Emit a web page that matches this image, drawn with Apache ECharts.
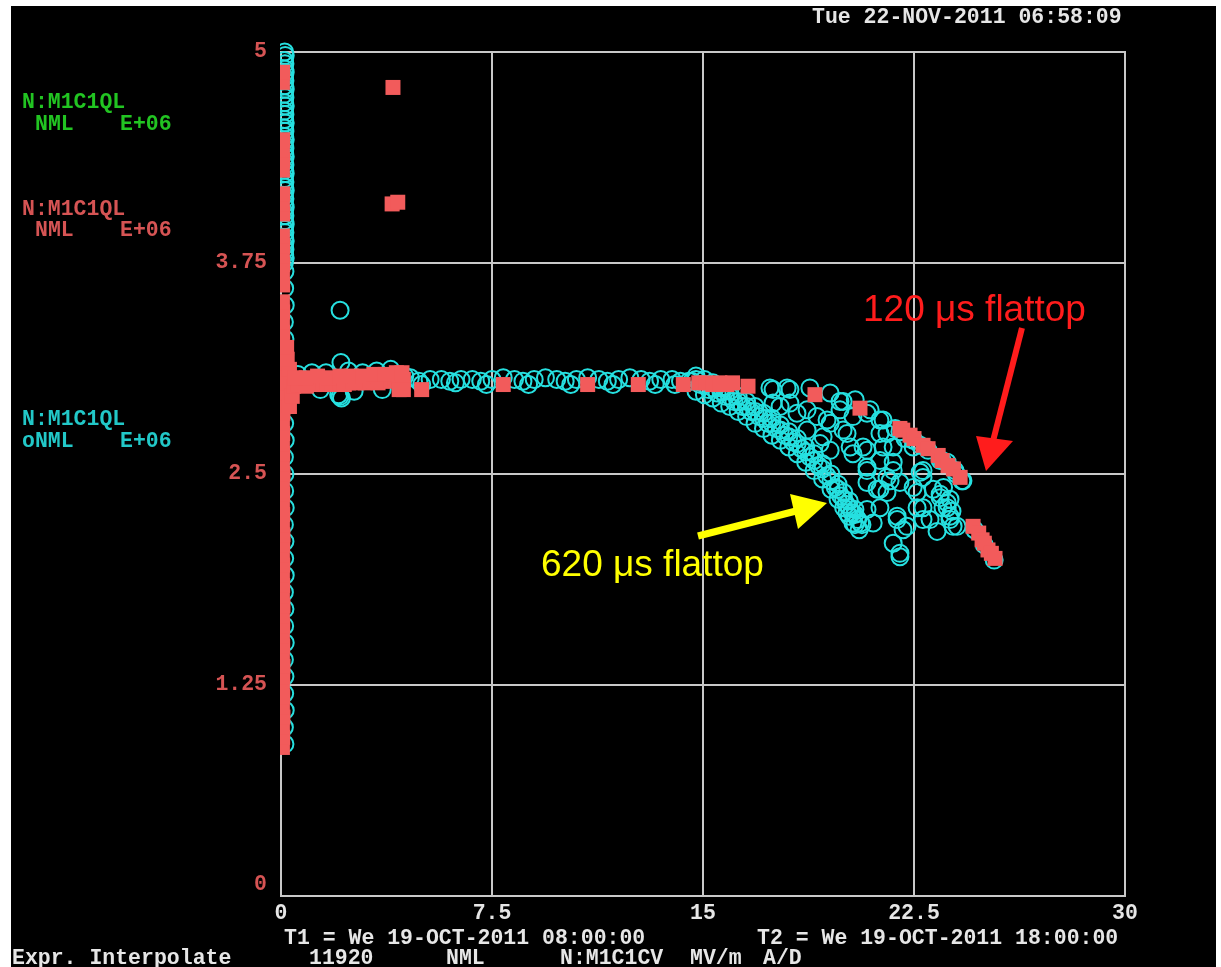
<!DOCTYPE html>
<html>
<head>
<meta charset="utf-8">
<script src="https://cdn.jsdelivr.net/npm/echarts@6/dist/echarts.min.js"></script>
<style>
html,body{margin:0;padding:0;background:#ffffff;}
#bg{position:absolute;left:11px;top:6px;width:1205px;height:961px;background:#000;}
#chart{position:absolute;left:0;top:0;width:1221px;height:967px;}
</style>
</head>
<body>
<div id="bg"></div>
<div id="chart"></div>
<script>
// ---- tick labels ----
const xTickValues = [0, 7.5, 15, 22.5, 30];
const yTickValues = [0, 1.25, 2.5, 3.75, 5];

// ---- red series (N:M1C1QL, filled squares) ----
const redColumnY = [0.88,0.94,1.00,1.06,1.12,1.18,1.24,1.30,1.36,1.42,1.48,1.54,1.60,1.66,1.72,1.78,1.84,1.90,1.96,2.02,2.08,2.14,2.20,2.26,2.32,2.38,2.44,2.50,2.56,2.62,2.68,2.74,2.80,2.86,2.92,2.98,3.04,3.10,3.16,3.22,3.28,3.34,3.40,3.46,3.52,3.62,3.69,3.74,3.79,3.85,3.91,4.04,4.10,4.16,4.30,4.36,4.42,4.48,4.82,4.88];
const redColumnX = [0.05,0.06,0.05,0.07,0.05,0.06,0.05,0.06,0.07,0.05,0.06,0.05,0.06,0.05,0.07,0.05,0.06,0.05,0.06,0.05,0.06,0.07,0.05,0.06,0.05,0.06,0.05,0.07,0.05,0.06,0.05,0.06,0.05,0.07,0.06,0.05,0.06,0.05,0.07,0.06,0.05,0.06,0.05,0.06,0.05,0.06,0.05,0.06,0.05,0.06,0.05,0.06,0.05,0.06,0.05,0.06,0.05,0.06,0.05,0.06];
const redJunction = [[0.3,2.90],[0.4,2.96],[0.3,3.12],[0.22,3.18],[0.2,3.25]];
const redBand = [[0.45,3.02],[0.6,3.03],[0.75,3.03],[0.9,3.02],[1.05,3.04],[1.2,3.03],[1.35,3.04],[1.5,3.03],[1.65,3.04],[1.8,3.03],[1.95,3.04],[2.1,3.04],[2.25,3.03],[2.4,3.04],[2.55,3.05],[2.7,3.04],[2.85,3.05],[3.0,3.04],[3.15,3.05],[3.3,3.05],[3.45,3.04],[3.6,3.05],[3.75,3.06],[3.9,3.05],[4.05,3.06],[4.2,3.05],[4.35,3.06],
  [0.5,3.07],[0.9,3.07],[1.3,3.08],[1.7,3.07],[2.1,3.08],[2.5,3.08],[2.9,3.08],[3.3,3.09],[3.7,3.09],[4.1,3.10],[4.3,3.10],[4.2,3.00],[4.35,3.00]];
const redFlat = [[5.0,3.00],[7.9,3.03],[10.9,3.03],[12.7,3.03],[14.3,3.03],[14.85,3.04],[15.1,3.04],[15.35,3.03],[15.6,3.04],[15.85,3.03],[16.05,3.04],[16.6,3.02]];
const redCurve = [[18.98,2.97],[20.58,2.89],[22.0,2.77],[22.1,2.76],[22.36,2.73],[22.5,2.71],[22.82,2.67],[23.0,2.65],[23.36,2.61],[23.5,2.58],[23.71,2.55],[23.9,2.53],[24.14,2.48],[24.6,2.19],[24.8,2.15],[24.92,2.11],[25.0,2.09],[25.13,2.05],[25.25,2.03],[25.38,2.00]];
const redOutliers = [[3.98,4.79],[3.95,4.10],[4.15,4.11]];

// ---- cyan series (N:M1C1QL, open circles) ----
const cyanColumnY = [0.90,1.00,1.10,1.20,1.30,1.40,1.50,1.60,1.70,1.80,1.90,2.00,2.10,2.20,2.30,2.40,2.50,2.60,2.70,2.80,2.90,3.00,3.10,3.20,3.30,3.40,3.50,3.60,3.70,3.75,3.78,3.80,3.83,3.85,3.88,3.90,3.93,3.95,3.98,4.00,4.03,4.05,4.08,4.10,4.13,4.15,4.18,4.20,4.23,4.25,4.28,4.30,4.33,4.35,4.38,4.40,4.43,4.45,4.48,4.50,4.53,4.55,4.58,4.60,4.63,4.65,4.68,4.70,4.73,4.75,4.78,4.80,4.83,4.85,4.88,4.90,4.93,4.95,4.98,5.00];
const cyanColumnX = [0.14,0.12,0.15,0.13,0.14,0.12,0.15,0.13,0.14,0.12,0.15,0.13,0.14,0.12,0.15,0.13,0.14,0.12,0.15,0.13,0.14,0.12,0.15,0.13,0.14,0.12,0.15,0.13,0.14,0.12,0.15,0.13,0.14,0.12,0.15,0.13,0.14,0.12,0.15,0.13,0.14,0.12,0.15,0.13,0.14,0.12,0.15,0.13,0.14,0.12,0.15,0.13,0.14,0.12,0.15,0.13,0.14,0.12,0.15,0.13,0.14,0.12,0.15,0.13,0.14,0.12,0.15,0.13,0.14,0.12,0.15,0.13,0.14,0.12,0.15,0.13,0.14,0.12,0.15,0.13];
const cyanOutliers = [[2.1,3.47],[2.13,3.16],[2.1,2.96],[2.05,2.97],[2.15,2.95]];
const cyanFlat = [[0.6,3.09],[1.1,3.10],[1.6,3.10],[2.4,3.11],[2.9,3.10],[3.4,3.11],[3.9,3.12],[1.4,3.00],[2.6,2.99],[3.6,3.00],[4.4,3.08],
  [4.6,3.07],[4.9,3.05],[5.3,3.06],[5.7,3.06],[6.0,3.05],[6.4,3.06],[6.8,3.06],[7.1,3.05],[7.5,3.06],[7.9,3.07],[8.3,3.06],[8.6,3.05],[9.0,3.06],[9.4,3.07],[9.8,3.06],[10.1,3.05],[10.5,3.06],[10.9,3.07],[11.3,3.06],[11.6,3.05],[12.0,3.06],[12.4,3.07],[12.8,3.06],[13.1,3.05],[13.5,3.06],[13.9,3.06],[14.2,3.05],[14.5,3.05],
  [5.0,3.03],[6.2,3.04],[7.3,3.03],[8.8,3.03],[10.3,3.03],[11.8,3.03],[13.3,3.03],[14.0,3.03]];
const cyanBranch = [
  [14.75,3.08],[15.05,3.06],[15.35,3.04],[15.65,3.01],[15.95,2.99],[16.25,2.96],[16.55,2.93],[16.85,2.90],[17.15,2.86],[17.45,2.83],[17.75,2.79],[18.05,2.75],[18.35,2.71],[18.65,2.66],[18.95,2.62],[19.25,2.56],[19.55,2.50],[19.8,2.44],[20.0,2.39],[20.2,2.34],[20.4,2.29],
  [14.75,3.06],[15.05,3.03],[15.35,3.01],[15.65,2.99],[15.95,2.96],[16.25,2.93],[16.55,2.90],[16.85,2.87],[17.15,2.83],[17.45,2.80],[17.75,2.76],[18.05,2.72],[18.35,2.68],[18.65,2.63],[18.95,2.58],[19.25,2.53],[19.55,2.46],[19.8,2.41],[20.0,2.35],[20.2,2.30],[20.4,2.26],[20.6,2.21],
  [14.6,3.05],[14.9,3.03],[15.2,3.00],[15.5,2.98],[15.8,2.96],[16.1,2.93],[16.4,2.90],[16.7,2.87],[17.0,2.84],[17.3,2.80],[17.6,2.77],[17.9,2.73],[18.2,2.69],[18.5,2.65],[18.8,2.60],[19.1,2.55],[19.4,2.49],[19.7,2.42],[19.9,2.37],[20.1,2.32],[20.3,2.27],[20.5,2.23],[20.65,2.20],
  [14.75,2.99],[15.05,2.97],[15.35,2.95],[15.65,2.92],[15.95,2.90],[16.25,2.87],[16.55,2.84],[16.85,2.80],[17.15,2.77],[17.45,2.73],[17.75,2.70],[18.05,2.66],[18.35,2.62],[18.65,2.57],[18.95,2.52],[19.25,2.47],[19.55,2.41],[19.8,2.35],[20.0,2.30],[20.2,2.25],[20.4,2.20],[20.55,2.17]];
const cyanScatter = [
  [17.38,3.01],[17.99,3.01],[17.49,2.92],[18.09,2.92],[18.70,2.88],[19.41,2.82],[19.87,2.93],[19.98,2.76],[19.27,2.72],[20.83,2.86],[21.29,2.82],[21.54,2.74],[20.83,2.64],[20.23,2.66],[21.76,2.66],[21.29,2.58],[21.76,2.57],[20.83,2.52],[21.54,2.48],[22.82,2.52],[22.47,2.42],[21.29,2.41],
  [17.74,2.90],[18.34,2.86],[19.05,2.84],[19.52,2.80],[19.87,2.88],[20.33,2.84],[20.12,2.74],[20.69,2.66],[21.29,2.74],[21.40,2.66],[20.83,2.54],[21.76,2.52],[20.83,2.45],[21.54,2.39],[22.00,2.45],[22.72,2.51],[21.29,2.30],[21.90,2.25],[22.25,2.19],[20.83,2.29],[21.05,2.21],[21.76,2.09],[22.00,2.03],[22.61,2.39],[22.82,2.30],[23.07,2.23],[23.32,2.16],[23.43,2.36],[23.68,2.30],[23.78,2.25],[23.89,2.19],[19.16,2.68],[19.52,2.64],[18.70,2.76],[20.33,2.62],[22.47,2.66],[22.82,2.48],
  [23.18,2.41],[23.53,2.30],[23.78,2.23],[24.03,2.19],[23.78,2.35],[21.90,2.23],[22.11,2.17],[22.00,2.01],[21.19,2.41],[21.65,2.46],[22.61,2.30],[22.82,2.23],[20.12,2.27],[20.33,2.21],
  [23.43,2.38],[23.68,2.33],[23.85,2.28],[23.55,2.42],
  [17.49,3.00],[18.09,3.00],[18.8,3.01],[19.52,2.98],[19.98,2.93],[20.41,2.94],[20.94,2.88],[21.40,2.82],[21.83,2.77],[22.18,2.71],[22.47,2.70],[22.72,2.67],[23.43,2.58],[23.68,2.57],[23.96,2.52],[24.24,2.46],
  [22.0,2.75],[22.5,2.70],[23.0,2.64],[23.5,2.58],[24.0,2.50],[24.2,2.46],[24.65,2.17],[25.0,2.08],[25.35,1.99]];

const redData = redColumnY.map((y, i) => [redColumnX[i], y]).concat(redJunction, redBand, redFlat, redCurve, redOutliers);
const cyanData = cyanColumnY.map((y, i) => [cyanColumnX[i], y]).concat(cyanOutliers, cyanFlat, cyanBranch, cyanScatter);

const PIX = 'bold 21.5px "Liberation Mono", "DejaVu Sans Mono", monospace';
function txt(t, x, y, color) {
  return { type: 'text', x: x, y: y, z: 100, style: { text: t, fill: color, font: PIX, verticalAlign: 'middle', align: 'left' } };
}

const GREEN = '#22c422', REDT = '#d65454', CYANT = '#22c8c8', WHITE = '#e6e6e6';

const chart = echarts.init(document.getElementById('chart'), null, { renderer: 'canvas' });
chart.setOption({
  backgroundColor: 'transparent',
  animation: false,
  grid: { left: 281, top: 52, width: 844, height: 844, show: true, borderColor: '#c8c8c8', borderWidth: 2, backgroundColor: 'transparent' },
  xAxis: {
    type: 'value', min: xTickValues[0], max: xTickValues[xTickValues.length - 1], interval: xTickValues[1] - xTickValues[0],
    axisLine: { show: true, lineStyle: { color: '#c8c8c8', width: 2 } },
    axisTick: { show: false },
    splitLine: { show: true, lineStyle: { color: '#c8c8c8', width: 2 } },
    axisLabel: { color: WHITE, fontFamily: '"Liberation Mono", monospace', fontWeight: 'bold', fontSize: 21.5, margin: 7 }
  },
  yAxis: {
    type: 'value', min: yTickValues[0], max: yTickValues[yTickValues.length - 1], interval: yTickValues[1] - yTickValues[0],
    axisLine: { show: true, lineStyle: { color: '#c8c8c8', width: 2 } },
    axisTick: { show: false },
    splitLine: { show: true, lineStyle: { color: '#c8c8c8', width: 2 } },
    axisLabel: { color: REDT, fontFamily: '"Liberation Mono", monospace', fontWeight: 'bold', fontSize: 21.5, margin: 14, verticalAlignMinLabel: 'bottom' }
  },
  series: [
    { name: 'cyan', type: 'scatter', clip: true, data: cyanData, symbol: 'circle', symbolSize: 17,
      itemStyle: { color: 'rgba(0,0,0,0)', borderColor: '#26e0e0', borderWidth: 2, opacity: 1 }, z: 3 },
    { name: 'red', type: 'scatter', clip: true, data: redData, symbol: 'rect', symbolSize: 15,
      itemStyle: { color: '#f25b5b', opacity: 1 }, z: 4 }
  ],
  graphic: [
    { type: 'rect', z: 90, shape: { x: 268, y: 40, width: 12, height: 850 }, style: { fill: '#000' } },
    txt('Tue 22-NOV-2011 06:58:09', 812, 18, WHITE),
    txt('N:M1C1QL', 22, 103, GREEN), txt('NML', 35, 125, GREEN), txt('E+06', 120, 125, GREEN),
    txt('N:M1C1QL', 22, 210, REDT), txt('NML', 35, 231, REDT), txt('E+06', 120, 231, REDT),
    txt('N:M1C1QL', 22, 420, CYANT), txt('oNML', 22, 442, CYANT), txt('E+06', 120, 442, CYANT),
    txt('T1 = We 19-OCT-2011 08:00:00', 284, 939, WHITE),
    txt('T2 = We 19-OCT-2011 18:00:00', 757, 939, WHITE),
    txt('Expr. Interpolate', 12, 959, WHITE), txt('11920', 309, 959, WHITE), txt('NML', 446, 959, WHITE),
    txt('N:M1C1CV', 560, 959, WHITE), txt('MV/m', 690, 959, WHITE), txt('A/D', 763, 959, WHITE),
    { type: 'text', x: 863, y: 311, z: 100, style: { text: '120 μs flattop', fill: '#ff1c1c', font: '37px "Liberation Sans", Arial, sans-serif', verticalAlign: 'middle' } },
    { type: 'text', x: 541, y: 566, z: 100, style: { text: '620 μs flattop', fill: '#ffff00', font: '37px "Liberation Sans", Arial, sans-serif', verticalAlign: 'middle' } },
    { type: 'line', z: 100, shape: { x1: 1022, y1: 328, x2: 992, y2: 445 }, style: { stroke: '#ff1c1c', lineWidth: 6 } },
    { type: 'polygon', z: 100, shape: { points: [[986, 471], [976, 436], [1013, 441]] }, style: { fill: '#ff1c1c' } },
    { type: 'line', z: 100, shape: { x1: 698, y1: 536, x2: 800, y2: 510 }, style: { stroke: '#ffff00', lineWidth: 7 } },
    { type: 'polygon', z: 100, shape: { points: [[827, 503], [790, 494], [798, 529]] }, style: { fill: '#ffff00' } }
  ]
});
</script>
</body>
</html>
